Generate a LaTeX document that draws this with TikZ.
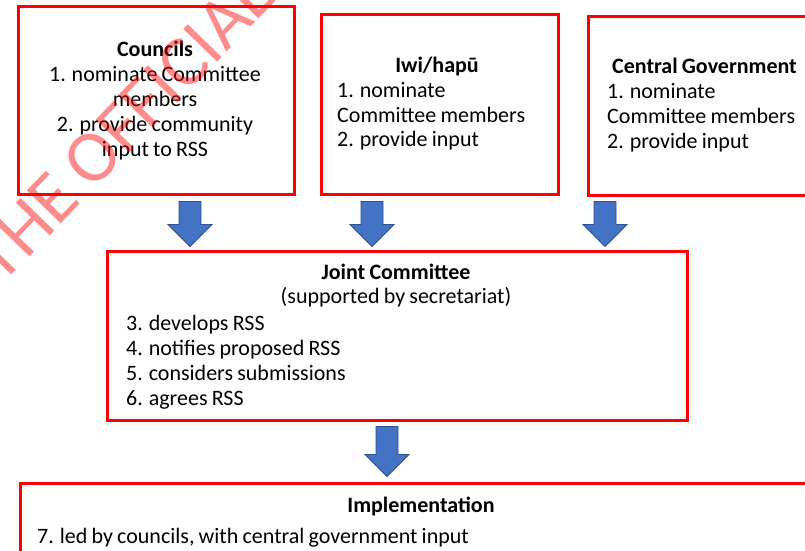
\documentclass[tikz,border=0pt]{standalone}
\usepackage{fontspec}
\setmainfont{Carlito}[WordSpace=0.85]
\definecolor{boxred}{HTML}{FF0000}
\definecolor{arrowblue}{HTML}{4472C4}
\definecolor{arrowedge}{HTML}{2F528F}
\begin{document}
\begin{tikzpicture}[x=1pt,y=-1pt,
  redbox/.style={draw=boxred, line width=2.5pt, inner sep=0pt, anchor=north west},
  txt/.style={inner sep=0pt, font=\fontsize{22}{25}\selectfont},
  ttl/.style={txt, font=\fontsize{22}{25}\selectfont\bfseries},
  downarrow/.pic={\draw[fill=arrowblue, draw=arrowedge, line width=0.8pt, line join=miter]
     (-11,0) -- (11,0) -- (11,#1) -- (22,#1) -- (0,{#1+22}) -- (-22,#1) -- (-11,#1) -- cycle;}
  ]
\useasboundingbox (0,0) rectangle (805,550);
\clip (0,0) rectangle (805,550);
\fill[white] (0,0) rectangle (805,550);

% boxes
\node[redbox, minimum width=276, minimum height=188] (councils) at (17,5) {};
\node[redbox, minimum width=237, minimum height=180] (iwi) at (320,13) {};
\node[redbox, minimum width=230, minimum height=179] (central) at (587,15) {};
\node[redbox, minimum width=580, minimum height=169] (joint) at (106,250) {};
\node[redbox, minimum width=800, minimum height=90] (impl) at (19,482) {};

% Councils text
\node[ttl, anchor=base] (c0) at (155,56) {Councils};
\node[txt, anchor=base] (c1) at (155,81) {1. nominate Committee};
\node[txt, anchor=base] (c2) at (155,106) {members};
\node[txt, anchor=base] (c3) at (155,131) {2. provide community};
\node[txt, anchor=base] (c4) at (155,156) {input to RSS};

% Iwi text
\node[ttl, anchor=base] (i0) at (437,72) {Iwi/hapū};
\node[txt, anchor=base west] (i1) at (337,97) {1. nominate};
\node[txt, anchor=base west] (i2) at (337,122) {Committee members};
\node[txt, anchor=base west] (i3) at (337,146) {2. provide input};

% Central government text
\node[ttl, anchor=base west] (g0) at (612,73) {Central Government};
\node[txt, anchor=base west] (g1) at (607,98) {1. nominate};
\node[txt, anchor=base west] (g2) at (607,123) {Committee members};
\node[txt, anchor=base west] (g3) at (607,148) {2. provide input};

% Joint committee text
\node[ttl, anchor=base] (j0) at (396,279) {Joint Committee};
\node[txt, anchor=base] (j1) at (396,303) {(supported by secretariat)};
\node[txt, anchor=base west] (j2) at (126,330) {3. develops RSS};
\node[txt, anchor=base west] (j3) at (126,355) {4. notifies proposed RSS};
\node[txt, anchor=base west] (j4) at (126,380) {5. considers submissions};
\node[txt, anchor=base west] (j5) at (126,405) {6. agrees RSS};

% Implementation text
\node[ttl, anchor=base] (m0) at (421,512) {Implementation};
\node[txt, anchor=base west] (m1) at (37,543) {7. led by councils, with central government input};

% block arrows between boxes
\coordinate (a1) at (councils.south -| 190,0);
\coordinate (a2) at (iwi.south -| 372,0);
\coordinate (a3) at (central.south -| 605,0);
\coordinate (a4) at (joint.south -| 387,0);
\pic at ([yshift=-6pt]a1) {downarrow=23};
\pic at ([yshift=-6pt]a2) {downarrow=23};
\pic at ([yshift=-5pt]a3) {downarrow=23};
\pic at ([yshift=-5pt]a4) {downarrow=28};

% watermark
\node[anchor=base west, rotate=46, inner sep=0pt, text=red, text opacity=0.45,
      font=\fontsize{73.5}{80}\selectfont] (wm) at (1,286) {THE OFFICIAL};
\end{tikzpicture}
\end{document}
